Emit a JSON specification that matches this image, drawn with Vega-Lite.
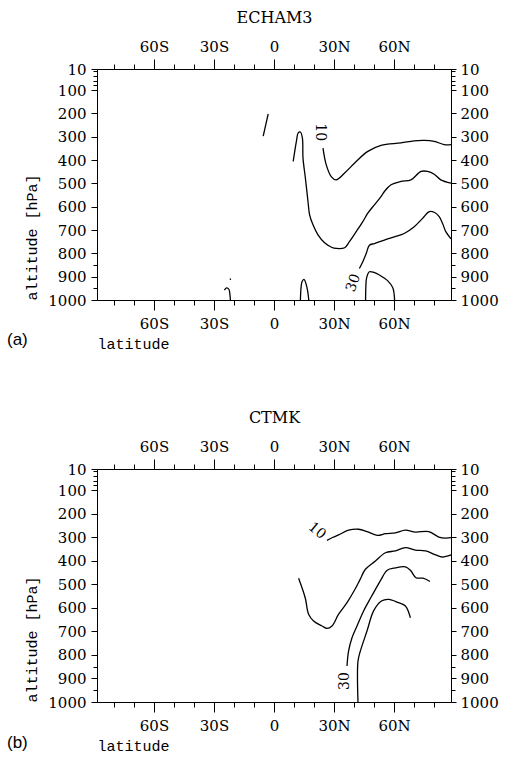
{
  "$schema": "https://vega.github.io/schema/vega-lite/v6.json",
  "background": "white",
  "padding": {"left": 7, "top": 9, "right": 4, "bottom": 4},
  "spacing": 58,
  "config": {
    "view": {"stroke": null},
    "axis": {"grid": false, "domainColor": "black", "tickColor": "black", "labelColor": "black", "titleColor": "black", "domainWidth": 1, "tickWidth": 1, "labelOverlap": false, "labelFlush": false}
  },
  "datasets": {
    "ea": [
      {"seg":"A","i":1,"lat":24.5,"p":349},{"seg":"A","i":2,"lat":26.1,"p":420},{"seg":"A","i":3,"lat":28.6,"p":471},{"seg":"A","i":4,"lat":31.1,"p":485},{"seg":"A","i":5,"lat":35.3,"p":456},{"seg":"A","i":6,"lat":41.1,"p":406},{"seg":"A","i":7,"lat":46.9,"p":363},{"seg":"A","i":8,"lat":53.5,"p":337},{"seg":"A","i":9,"lat":63.5,"p":327},{"seg":"A","i":10,"lat":70,"p":318},{"seg":"A","i":11,"lat":75.1,"p":316},{"seg":"A","i":12,"lat":80.1,"p":320},{"seg":"A","i":13,"lat":85.1,"p":334},{"seg":"A","i":14,"lat":88.5,"p":334},
      {"seg":"B","i":1,"lat":9.6,"p":406},{"seg":"B","i":2,"lat":11.2,"p":320},{"seg":"B","i":3,"lat":12.1,"p":284},{"seg":"B","i":4,"lat":13.2,"p":280},{"seg":"B","i":5,"lat":14.2,"p":306},{"seg":"B","i":6,"lat":14.5,"p":392},{"seg":"B","i":7,"lat":15.7,"p":478},{"seg":"B","i":8,"lat":17.0,"p":578},{"seg":"B","i":9,"lat":17.8,"p":635},{"seg":"B","i":10,"lat":19.5,"p":678},{"seg":"B","i":11,"lat":22.0,"p":721},{"seg":"B","i":12,"lat":25.3,"p":755},{"seg":"B","i":13,"lat":29,"p":775},{"seg":"B","i":14,"lat":31.1,"p":779},{"seg":"B","i":15,"lat":35.3,"p":776},{"seg":"B","i":16,"lat":37.7,"p":750},{"seg":"B","i":17,"lat":41.1,"p":707},{"seg":"B","i":18,"lat":44.4,"p":664},{"seg":"B","i":19,"lat":46.9,"p":628},{"seg":"B","i":20,"lat":50.2,"p":592},{"seg":"B","i":21,"lat":53.5,"p":557},{"seg":"B","i":22,"lat":55.2,"p":535},{"seg":"B","i":23,"lat":58.5,"p":506},{"seg":"B","i":24,"lat":63.5,"p":492},{"seg":"B","i":25,"lat":68.5,"p":485},{"seg":"B","i":26,"lat":73.5,"p":449},{"seg":"B","i":27,"lat":76.8,"p":449},{"seg":"B","i":28,"lat":80.1,"p":461},{"seg":"B","i":29,"lat":83.4,"p":485},{"seg":"B","i":30,"lat":88.5,"p":499},
      {"seg":"C","i":1,"lat":42.7,"p":865},{"seg":"C","i":2,"lat":44.4,"p":836},{"seg":"C","i":3,"lat":46.1,"p":801},{"seg":"C","i":4,"lat":47.7,"p":765},{"seg":"C","i":5,"lat":50.2,"p":758},{"seg":"C","i":6,"lat":55.2,"p":743},{"seg":"C","i":7,"lat":60.2,"p":729},{"seg":"C","i":8,"lat":65.1,"p":715},{"seg":"C","i":9,"lat":70.1,"p":686},{"seg":"C","i":10,"lat":74.3,"p":650},{"seg":"C","i":11,"lat":77.6,"p":621},{"seg":"C","i":12,"lat":80.1,"p":624},{"seg":"C","i":13,"lat":82.6,"p":643},{"seg":"C","i":14,"lat":84.3,"p":672},{"seg":"C","i":15,"lat":85.9,"p":707},{"seg":"C","i":16,"lat":88.5,"p":738},
      {"seg":"D","i":1,"lat":45.8,"p":1000},{"seg":"D","i":2,"lat":45.9,"p":950},{"seg":"D","i":3,"lat":46.3,"p":905},{"seg":"D","i":4,"lat":47.7,"p":879},{"seg":"D","i":5,"lat":50,"p":882},{"seg":"D","i":6,"lat":52.7,"p":893},{"seg":"D","i":7,"lat":56.9,"p":918},{"seg":"D","i":8,"lat":59.4,"p":948},{"seg":"D","i":9,"lat":60.3,"p":1000},
      {"seg":"E","i":1,"lat":13.2,"p":1000},{"seg":"E","i":2,"lat":13.5,"p":950},{"seg":"E","i":3,"lat":14.0,"p":922},{"seg":"E","i":4,"lat":15.0,"p":912},{"seg":"E","i":5,"lat":16.0,"p":930},{"seg":"E","i":6,"lat":16.8,"p":960},{"seg":"E","i":7,"lat":17.4,"p":1000},
      {"seg":"F","i":1,"lat":-24.8,"p":958},{"seg":"F","i":2,"lat":-23.7,"p":948},{"seg":"F","i":3,"lat":-22.5,"p":955},{"seg":"F","i":4,"lat":-22.0,"p":980},{"seg":"F","i":5,"lat":-21.8,"p":1000},
      {"seg":"G","i":1,"lat":-2.9,"p":202},{"seg":"G","i":2,"lat":-5.4,"p":298},
      {"seg":"H","i":1,"lat":-21.9,"p":908},{"seg":"H","i":2,"lat":-21.7,"p":914}
    ],
    "eb": [
      {"seg":"A","i":1,"lat":26.5,"p":313},{"seg":"A","i":2,"lat":29.5,"p":300},{"seg":"A","i":3,"lat":32.3,"p":290},{"seg":"A","i":4,"lat":37.3,"p":270},{"seg":"A","i":5,"lat":42.3,"p":266},{"seg":"A","i":6,"lat":46.5,"p":276},{"seg":"A","i":7,"lat":51.6,"p":292},{"seg":"A","i":8,"lat":55.7,"p":285},{"seg":"A","i":9,"lat":60.7,"p":281},{"seg":"A","i":10,"lat":65.7,"p":270},{"seg":"A","i":11,"lat":70.7,"p":278},{"seg":"A","i":12,"lat":77.4,"p":276},{"seg":"A","i":13,"lat":82.4,"p":299},{"seg":"A","i":14,"lat":85.8,"p":304},{"seg":"A","i":15,"lat":88.5,"p":302},
      {"seg":"B","i":1,"lat":12.3,"p":474},{"seg":"B","i":2,"lat":15.6,"p":557},{"seg":"B","i":3,"lat":17.3,"p":627},{"seg":"B","i":4,"lat":19.8,"p":656},{"seg":"B","i":5,"lat":24.0,"p":677},{"seg":"B","i":6,"lat":26.5,"p":687},{"seg":"B","i":7,"lat":29.0,"p":677},{"seg":"B","i":8,"lat":32.3,"p":627},{"seg":"B","i":9,"lat":36.5,"p":578},{"seg":"B","i":10,"lat":40.5,"p":521},{"seg":"B","i":11,"lat":43,"p":480},{"seg":"B","i":12,"lat":45.7,"p":436},{"seg":"B","i":13,"lat":50.7,"p":401},{"seg":"B","i":14,"lat":55.7,"p":366},{"seg":"B","i":15,"lat":60.7,"p":358},{"seg":"B","i":16,"lat":65.7,"p":344},{"seg":"B","i":17,"lat":70.7,"p":355},{"seg":"B","i":18,"lat":75.8,"p":358},{"seg":"B","i":19,"lat":80.8,"p":375},{"seg":"B","i":20,"lat":84.1,"p":384},{"seg":"B","i":21,"lat":88.5,"p":375},
      {"seg":"C","i":1,"lat":36.5,"p":847},{"seg":"C","i":2,"lat":37.3,"p":783},{"seg":"C","i":3,"lat":39.0,"p":727},{"seg":"C","i":4,"lat":41.5,"p":677},{"seg":"C","i":5,"lat":44.8,"p":613},{"seg":"C","i":6,"lat":48.5,"p":555},{"seg":"C","i":7,"lat":51.5,"p":510},{"seg":"C","i":8,"lat":53.5,"p":480},{"seg":"C","i":9,"lat":56.6,"p":440},{"seg":"C","i":10,"lat":60.7,"p":430},{"seg":"C","i":11,"lat":65.7,"p":426},{"seg":"C","i":12,"lat":68.2,"p":440},{"seg":"C","i":13,"lat":71,"p":472},{"seg":"C","i":14,"lat":74.5,"p":474},{"seg":"C","i":15,"lat":78,"p":488},
      {"seg":"D","i":1,"lat":42.0,"p":1000},{"seg":"D","i":2,"lat":42.0,"p":826},{"seg":"D","i":3,"lat":43.2,"p":783},{"seg":"D","i":4,"lat":46.5,"p":698},{"seg":"D","i":5,"lat":49.8,"p":613},{"seg":"D","i":6,"lat":53.7,"p":571},{"seg":"D","i":7,"lat":57.4,"p":564},{"seg":"D","i":8,"lat":62.2,"p":578},{"seg":"D","i":9,"lat":65.7,"p":592},{"seg":"D","i":10,"lat":68.2,"p":642}
    ],
    "labels": [
      {"id":"a10","text":"10","lat":22.9,"p":281},
      {"id":"a30","text":"30","lat":39.8,"p":927},
      {"id":"b10","text":"10","lat":21.5,"p":273},
      {"id":"b30","text":"30","lat":35.7,"p":911}
    ]
  },
  "vconcat": [
    {
      "width": 354, "height": 231,
      "title": {"text": "(a)", "orient": "bottom", "anchor": "start", "frame": "group", "dx": -90, "offset": -19, "font": "Liberation Sans", "fontSize": 17, "fontWeight": "normal", "color": "black"},
      "resolve": {"axis": {"x": "independent", "y": "independent"}},
      "layer": [
        {
          "data": {"name": "ea"},
          "mark": {"type": "line", "color": "black", "strokeWidth": 1.3, "interpolate": "catmull-rom"},
          "encoding": {
            "x": {"field": "lat", "type": "quantitative", "scale": {"domain": [-88.5, 88.5], "nice": false, "zero": false},
              "axis": {"orient": "bottom", "values": [-60, -30, 0, 30, 60], "labelExpr": "datum.value < 0 ? (-datum.value) + 'S' : (datum.value > 0 ? datum.value + 'N' : '0')", "tickSize": 10, "labelPadding": 6, "labelFont": "DejaVu Serif", "labelFontSize": 15, "title": "latitude", "titleFont": "Liberation Mono", "titleFontSize": 15, "titleFontWeight": "normal", "titleAnchor": "start", "titleAlign": "left", "titlePadding": 5}},
            "y": {"field": "p", "type": "quantitative", "scale": {"domain": [10, 1000], "reverse": true, "nice": false, "zero": false},
              "axis": {"orient": "left", "values": [10, 100, 200, 300, 400, 500, 600, 700, 800, 900, 1000], "format": "d", "tickSize": 6, "labelPadding": 5, "labelFont": "DejaVu Serif", "labelFontSize": 15, "title": "altitude [hPa]", "titleFont": "Liberation Mono", "titleFontSize": 15, "titleFontWeight": "normal", "titleAnchor": "end", "titleAlign": "left", "titlePadding": 8}},
            "detail": {"field": "seg"},
            "order": {"field": "i", "type": "quantitative"}
          }
        },
        {
          "data": {"name": "ea"},
          "mark": {"type": "line", "opacity": 0},
          "encoding": {
            "x": {"field": "lat", "type": "quantitative", "axis": {"orient": "top", "values": [-60, -30, 0, 30, 60], "labelExpr": "datum.value < 0 ? (-datum.value) + 'S' : (datum.value > 0 ? datum.value + 'N' : '0')", "tickSize": 10, "labelPadding": 5, "labelFont": "DejaVu Serif", "labelFontSize": 15, "title": "ECHAM3", "titleFont": "DejaVu Serif", "titleFontSize": 16, "titleFontWeight": "normal", "titlePadding": 14}},
            "y": {"field": "p", "type": "quantitative", "axis": {"orient": "right", "values": [10, 100, 200, 300, 400, 500, 600, 700, 800, 900, 1000], "format": "d", "tickSize": 5, "labelPadding": 4, "labelFont": "DejaVu Serif", "labelFontSize": 15, "title": null}},
            "detail": {"field": "seg"},
            "order": {"field": "i", "type": "quantitative"}
          }
        },
        {
          "data": {"name": "ea"},
          "mark": {"type": "line", "opacity": 0},
          "encoding": {
            "x": {"field": "lat", "type": "quantitative", "axis": {"orient": "bottom", "values": [-80, -70, -50, -40, -20, -10, 10, 20, 40, 50, 70, 80], "tickSize": 5, "labels": false, "title": null}},
            "y": {"field": "p", "type": "quantitative", "axis": {"orient": "left", "values": [20, 40, 60, 80, 850, 950], "tickSize": 4, "labels": false, "title": null}},
            "detail": {"field": "seg"},
            "order": {"field": "i", "type": "quantitative"}
          }
        },
        {
          "data": {"name": "ea"},
          "mark": {"type": "line", "opacity": 0},
          "encoding": {
            "x": {"field": "lat", "type": "quantitative", "axis": {"orient": "top", "values": [-80, -70, -50, -40, -20, -10, 10, 20, 40, 50, 70, 80], "tickSize": 5, "labels": false, "title": null}},
            "y": {"field": "p", "type": "quantitative", "axis": {"orient": "right", "values": [20, 40, 60, 80, 850, 950], "tickSize": 4, "labels": false, "title": null}},
            "detail": {"field": "seg"},
            "order": {"field": "i", "type": "quantitative"}
          }
        },
        {
          "data": {"name": "labels"},
          "transform": [{"filter": "datum.id === 'a10'"}],
          "mark": {"type": "text", "angle": 90, "font": "DejaVu Serif", "fontSize": 14, "color": "black", "align": "center", "baseline": "middle"},
          "encoding": {"x": {"field": "lat", "type": "quantitative", "axis": null}, "y": {"field": "p", "type": "quantitative", "axis": null}, "text": {"field": "text"}}
        },
        {
          "data": {"name": "labels"},
          "transform": [{"filter": "datum.id === 'a30'"}],
          "mark": {"type": "text", "angle": 290, "font": "DejaVu Serif", "fontSize": 14, "color": "black", "align": "center", "baseline": "middle"},
          "encoding": {"x": {"field": "lat", "type": "quantitative", "axis": null}, "y": {"field": "p", "type": "quantitative", "axis": null}, "text": {"field": "text"}}
        }
      ]
    },
    {
      "width": 354, "height": 233,
      "title": {"text": "(b)", "orient": "bottom", "anchor": "start", "frame": "group", "dx": -90, "offset": -18, "font": "Liberation Sans", "fontSize": 17, "fontWeight": "normal", "color": "black"},
      "resolve": {"axis": {"x": "independent", "y": "independent"}},
      "layer": [
        {
          "data": {"name": "eb"},
          "mark": {"type": "line", "color": "black", "strokeWidth": 1.3, "interpolate": "catmull-rom"},
          "encoding": {
            "x": {"field": "lat", "type": "quantitative", "scale": {"domain": [-88.5, 88.5], "nice": false, "zero": false},
              "axis": {"orient": "bottom", "values": [-60, -30, 0, 30, 60], "labelExpr": "datum.value < 0 ? (-datum.value) + 'S' : (datum.value > 0 ? datum.value + 'N' : '0')", "tickSize": 10, "labelPadding": 6, "labelFont": "DejaVu Serif", "labelFontSize": 15, "title": "latitude", "titleFont": "Liberation Mono", "titleFontSize": 15, "titleFontWeight": "normal", "titleAnchor": "start", "titleAlign": "left", "titlePadding": 5}},
            "y": {"field": "p", "type": "quantitative", "scale": {"domain": [10, 1000], "reverse": true, "nice": false, "zero": false},
              "axis": {"orient": "left", "values": [10, 100, 200, 300, 400, 500, 600, 700, 800, 900, 1000], "format": "d", "tickSize": 6, "labelPadding": 5, "labelFont": "DejaVu Serif", "labelFontSize": 15, "title": "altitude [hPa]", "titleFont": "Liberation Mono", "titleFontSize": 15, "titleFontWeight": "normal", "titleAnchor": "end", "titleAlign": "left", "titlePadding": 8}},
            "detail": {"field": "seg"},
            "order": {"field": "i", "type": "quantitative"}
          }
        },
        {
          "data": {"name": "eb"},
          "mark": {"type": "line", "opacity": 0},
          "encoding": {
            "x": {"field": "lat", "type": "quantitative", "axis": {"orient": "top", "values": [-60, -30, 0, 30, 60], "labelExpr": "datum.value < 0 ? (-datum.value) + 'S' : (datum.value > 0 ? datum.value + 'N' : '0')", "tickSize": 10, "labelPadding": 5, "labelFont": "DejaVu Serif", "labelFontSize": 15, "title": "CTMK", "titleFont": "DejaVu Serif", "titleFontSize": 16, "titleFontWeight": "normal", "titlePadding": 14}},
            "y": {"field": "p", "type": "quantitative", "axis": {"orient": "right", "values": [10, 100, 200, 300, 400, 500, 600, 700, 800, 900, 1000], "format": "d", "tickSize": 5, "labelPadding": 4, "labelFont": "DejaVu Serif", "labelFontSize": 15, "title": null}},
            "detail": {"field": "seg"},
            "order": {"field": "i", "type": "quantitative"}
          }
        },
        {
          "data": {"name": "eb"},
          "mark": {"type": "line", "opacity": 0},
          "encoding": {
            "x": {"field": "lat", "type": "quantitative", "axis": {"orient": "bottom", "values": [-80, -70, -50, -40, -20, -10, 10, 20, 40, 50, 70, 80], "tickSize": 5, "labels": false, "title": null}},
            "y": {"field": "p", "type": "quantitative", "axis": {"orient": "left", "values": [20, 40, 60, 80, 850, 950], "tickSize": 4, "labels": false, "title": null}},
            "detail": {"field": "seg"},
            "order": {"field": "i", "type": "quantitative"}
          }
        },
        {
          "data": {"name": "eb"},
          "mark": {"type": "line", "opacity": 0},
          "encoding": {
            "x": {"field": "lat", "type": "quantitative", "axis": {"orient": "top", "values": [-80, -70, -50, -40, -20, -10, 10, 20, 40, 50, 70, 80], "tickSize": 5, "labels": false, "title": null}},
            "y": {"field": "p", "type": "quantitative", "axis": {"orient": "right", "values": [20, 40, 60, 80, 850, 950], "tickSize": 4, "labels": false, "title": null}},
            "detail": {"field": "seg"},
            "order": {"field": "i", "type": "quantitative"}
          }
        },
        {
          "data": {"name": "labels"},
          "transform": [{"filter": "datum.id === 'b10'"}],
          "mark": {"type": "text", "angle": 40, "font": "DejaVu Serif", "fontSize": 14, "color": "black", "align": "center", "baseline": "middle"},
          "encoding": {"x": {"field": "lat", "type": "quantitative", "axis": null}, "y": {"field": "p", "type": "quantitative", "axis": null}, "text": {"field": "text"}}
        },
        {
          "data": {"name": "labels"},
          "transform": [{"filter": "datum.id === 'b30'"}],
          "mark": {"type": "text", "angle": 270, "font": "DejaVu Serif", "fontSize": 14, "color": "black", "align": "center", "baseline": "middle"},
          "encoding": {"x": {"field": "lat", "type": "quantitative", "axis": null}, "y": {"field": "p", "type": "quantitative", "axis": null}, "text": {"field": "text"}}
        }
      ]
    }
  ]
}
